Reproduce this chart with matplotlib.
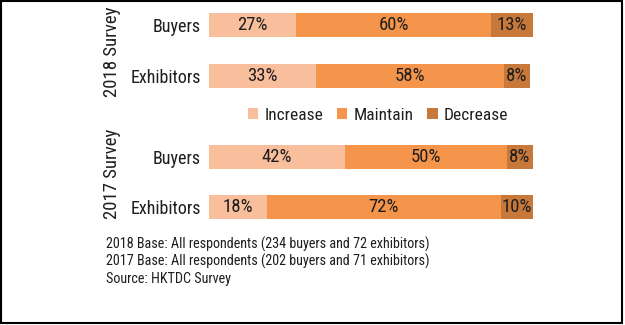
import matplotlib
matplotlib.use("Agg")
import matplotlib.pyplot as plt
from matplotlib.patches import Rectangle, Patch

plt.rcParams['font.family'] = ['Roboto Condensed', 'Archivo Narrow', 'DejaVu Sans']

groups = ["2018 Survey", "2017 Survey"]
rows = ["Buyers", "Exhibitors", "Buyers", "Exhibitors"]
increase = [27, 33, 42, 18]
maintain = [60, 58, 50, 72]
decrease = [13, 8, 8, 10]
series_names = ["Increase", "Maintain", "Decrease"]
colors = ["#F9BE9C", "#F5954B", "#C8793A"]
footnotes = [
    "2018 Base: All respondents (234 buyers and 72 exhibitors)",
    "2017 Base: All respondents (202 buyers and 71 exhibitors)",
    "Source: HKTDC Survey",
]

W, H = 625, 325
fig = plt.figure(figsize=(W / 100, H / 100), dpi=100)
fig.patch.set_facecolor("white")
tc = "#1e1e1e"

ypos = [0, 1, 2.59, 3.57]
bh = 0.47
top_px, bot_px = 13, 219
ax = fig.add_axes([209 / W, 1 - bot_px / H, 324 / W, (bot_px - top_px) / H])
ax.set_xlim(0, 100)
ax.set_ylim(ypos[-1] + bh / 2, ypos[0] - bh / 2)
for s in ax.spines.values():
    s.set_visible(False)
ax.set_xticks([])
ax.set_yticks(ypos)
ax.set_yticklabels(rows, fontsize=13, color=tc)
ax.tick_params(axis="y", length=0, pad=6)

left = [0] * 4
for vals, col in zip([increase, maintain, decrease], colors):
    ax.barh(ypos, vals, left=left, height=bh, color=col, edgecolor="none")
    for y, l, v in zip(ypos, left, vals):
        ax.text(l + v / 2, y, f"{v}%", ha="center", va="center",
                fontsize=13.5, color=tc)
    left = [a + b for a, b in zip(left, vals)]

# group labels
fig.text(112 / W, 1 - 52 / H, groups[0], rotation=90, ha="center", va="center",
         fontsize=13.5, color=tc)
fig.text(112 / W, 1 - 174 / H, groups[1], rotation=90, ha="center", va="center",
         fontsize=13.5, color=tc)

handles = [Patch(facecolor=c, edgecolor="none") for c in colors]
fig.legend(handles, series_names, loc="center", ncol=3,
           bbox_to_anchor=(378 / W, 1 - 115 / H), frameon=False,
           fontsize=12.5, handlelength=0.6, handleheight=0.6,
           handletextpad=0.35, columnspacing=0.8, labelcolor=tc)

for i, line in enumerate(footnotes):
    fig.text(106 / W, 1 - (244 + i * 17.5) / H, line, ha="left", va="center",
             fontsize=10.2, color=tc)

fig.add_artist(Rectangle((1 / W, 2 / H), (W - 4) / W, (H - 3) / H,
                         transform=fig.transFigure, fill=False,
                         edgecolor="black", linewidth=1.5))

fig.savefig("out.png", dpi=100, facecolor="white")
